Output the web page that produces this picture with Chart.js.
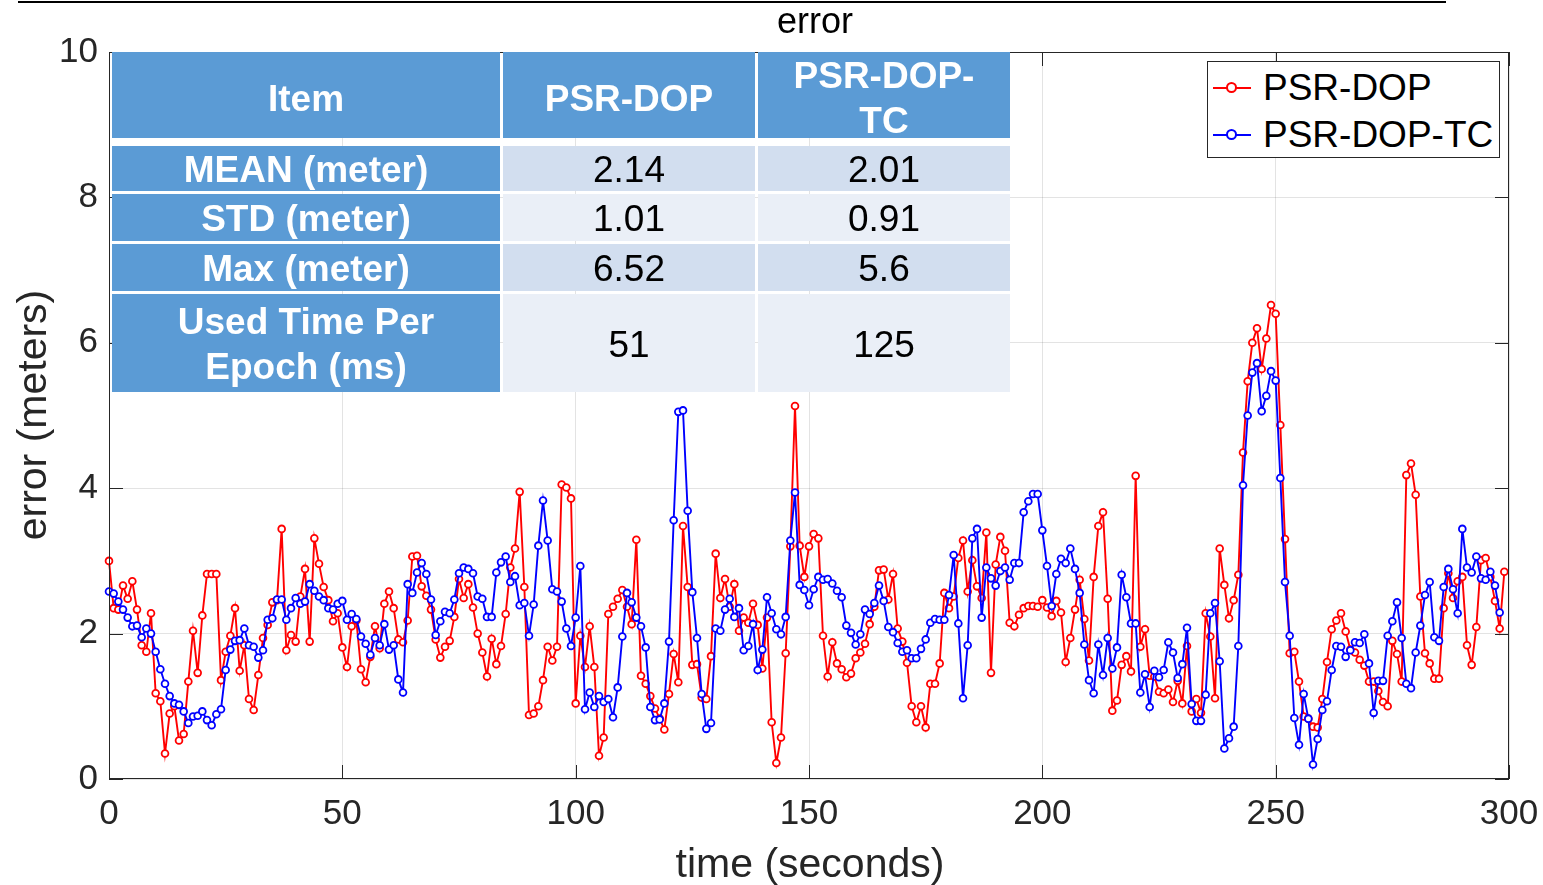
<!DOCTYPE html>
<html><head><meta charset="utf-8">
<script src="https://cdn.jsdelivr.net/npm/chart.js@4/dist/chart.umd.min.js"></script>
<style>
html,body{margin:0;padding:0;background:#fff;}
#wrap{position:relative;width:1543px;height:885px;font-family:"Liberation Sans",Arial,sans-serif;color:#262626;overflow:hidden;}
#c{position:absolute;left:0;top:0;}
#topline{position:absolute;left:18px;top:1px;width:1428px;height:2px;background:#000;}
#title{position:absolute;left:615px;width:400px;top:1px;text-align:center;font-size:36px;line-height:40px;color:#000;}
#xlabel{position:absolute;left:510px;width:600px;top:840px;text-align:center;font-size:41px;line-height:46px;}
#ylabel{position:absolute;left:32px;top:415px;width:400px;margin-left:-200px;margin-top:-23px;text-align:center;font-size:41px;line-height:46px;transform:rotate(-90deg);}
.tgrid{position:absolute;left:112px;display:grid;grid-template-columns:388px 252px 252px;column-gap:3px;row-gap:3px;}
#thead{top:52px;grid-template-rows:86px;}
#tbody{top:146px;grid-template-rows:45px 47px 47px 98px;}
.cell{display:flex;align-items:center;justify-content:center;text-align:center;font-size:37px;line-height:45px;white-space:pre-line;}
#thead .cell{padding-top:6px;box-sizing:border-box;}
#tbody .cell{padding-top:2px;box-sizing:border-box;}
.hd{background:#5b9bd5;color:#fff;font-weight:bold;}
.d1{background:#d2deef;color:#000;}
.d2{background:#eaeff7;color:#000;}
#legend{position:absolute;left:1207px;top:61px;width:291px;height:95px;border:1px solid #262626;background:#fff;}
.li{position:absolute;left:0;height:44px;line-height:44px;font-size:37px;color:#000;}
.li .ls{position:absolute;left:5px;top:21px;width:38px;height:2px;}
.li .mk{position:absolute;left:18px;top:16px;width:7px;height:7px;border-radius:50%;background:#fff;border:2px solid;}
.li .tx{position:absolute;left:55px;top:0;white-space:nowrap;}
</style></head>
<body>
<div id="wrap">
<canvas id="c" width="1543" height="885"></canvas>
<div id="topline"></div>
<div id="title">error</div>
<div id="xlabel">time (seconds)</div>
<div id="ylabel">error (meters)</div>
<div id="thead" class="tgrid"></div>
<div id="tbody" class="tgrid"></div>
<div id="legend"></div>
</div>
<script>
// ---- data ----
const timeStart = 0;   // seconds of first sample
const timeStep = 1;    // seconds between samples
const psrDop = [
3.0,2.35,2.33,2.66,2.48,2.72,2.33,1.84,1.75,2.28,
1.18,1.07,0.35,0.9,1.0,0.53,0.62,1.34,2.04,1.46,
2.25,2.82,2.82,2.82,1.36,1.75,1.97,2.35,1.49,1.84,
1.1,0.95,1.43,1.94,2.12,2.43,2.46,3.44,1.77,1.98,
1.89,2.51,2.89,1.89,3.31,2.96,2.64,2.46,2.17,2.28,
1.81,1.54,2.1,2.18,1.51,1.33,1.68,2.1,1.8,2.41,
2.58,2.35,1.92,1.88,2.18,3.06,3.07,2.65,2.52,2.33,
1.92,1.67,1.82,1.9,2.23,2.75,2.49,2.68,2.36,2.0,
1.74,1.41,1.93,1.58,1.83,2.27,2.91,3.17,3.95,2.64,
0.88,0.9,1.0,1.36,1.82,1.63,1.82,4.05,4.01,3.86,
1.04,1.97,1.54,2.1,1.54,0.32,0.57,2.27,2.37,2.48,
2.6,2.37,2.13,3.29,1.42,1.31,1.14,0.97,0.83,0.68,
1.17,1.72,1.33,3.48,2.64,1.57,1.58,1.12,1.1,1.69,
3.1,2.49,2.75,2.37,2.68,2.04,2.22,2.15,2.41,2.12,
1.52,2.22,0.78,0.22,0.57,1.73,3.2,5.13,3.21,2.78,
3.2,3.37,3.31,1.97,1.41,1.88,1.59,1.51,1.4,1.45,
1.66,1.74,1.86,2.13,2.37,2.87,2.88,2.47,2.82,2.07,
1.89,1.6,1.0,0.78,1.0,0.71,1.31,1.31,1.59,2.56,
2.35,2.51,3.04,3.28,2.58,3.01,2.65,2.49,3.39,1.46,
2.95,3.33,3.14,2.15,2.1,2.26,2.35,2.38,2.38,2.37,
2.46,2.36,2.24,2.45,2.29,1.61,1.94,2.33,2.74,2.2,
1.63,2.78,3.48,3.67,2.48,0.94,1.08,1.57,1.69,1.48,
4.17,1.82,2.06,1.42,1.41,1.2,1.18,1.23,1.06,1.35,
1.04,1.83,0.93,1.1,0.91,2.28,1.96,1.11,3.17,2.67,
2.21,2.46,2.81,4.49,5.47,6.0,6.2,5.64,6.06,6.52,
6.4,4.87,3.3,1.73,1.75,1.34,0.86,0.83,0.72,0.71,
1.1,1.61,2.06,2.18,2.28,2.03,1.78,1.74,1.64,1.56,
1.34,1.34,1.21,1.06,1.0,1.9,1.72,1.34,4.18,4.34,
3.91,2.51,1.73,1.59,1.38,1.38,2.35,2.83,2.49,2.72,
2.78,1.84,1.57,2.09,3.01,3.04,2.78,2.45,2.07,2.85
];
const psrDopTc = [
2.58,2.55,2.44,2.33,2.22,2.1,2.11,1.95,2.07,2.0,
1.75,1.51,1.31,1.14,1.04,1.02,0.93,0.77,0.86,0.87,
0.93,0.81,0.74,0.89,0.96,1.5,1.78,1.9,1.91,2.07,
1.84,1.82,1.67,1.77,2.19,2.21,2.47,2.47,2.19,2.35,
2.49,2.41,2.44,2.68,2.59,2.51,2.46,2.35,2.33,2.41,
2.45,2.19,2.27,2.2,1.96,1.86,1.71,1.94,1.84,2.13,
1.78,1.84,1.37,1.19,2.68,2.56,2.84,2.97,2.82,2.47,
1.98,2.17,2.3,2.28,2.47,2.83,2.91,2.89,2.83,2.51,
2.48,2.23,2.23,2.84,2.98,3.06,2.71,2.79,2.39,2.42,
1.97,2.4,3.21,3.83,3.28,2.61,2.58,2.44,2.07,1.83,
2.22,2.93,0.96,1.19,0.99,1.14,1.06,1.1,0.85,1.26,
1.96,2.56,2.43,2.22,2.1,1.81,0.99,0.81,0.82,1.04,
1.89,3.56,5.05,5.07,3.69,2.57,1.94,1.17,0.69,0.77,
2.07,2.04,2.33,2.48,2.23,2.35,1.77,1.83,2.13,1.5,
1.78,2.5,2.28,2.06,1.99,2.23,3.28,3.94,2.67,2.6,
2.39,2.61,2.78,2.74,2.75,2.69,2.59,2.5,2.11,2.01,
1.85,1.99,2.33,2.27,2.42,2.66,2.45,2.09,2.02,1.87,
1.75,1.77,1.66,1.66,1.79,1.92,2.15,2.2,2.19,2.19,
2.53,3.08,2.14,1.11,1.84,3.31,3.44,2.22,2.91,2.76,
2.66,2.86,2.91,2.74,2.97,2.97,3.67,3.82,3.92,3.92,
3.42,2.93,2.38,2.82,3.03,2.97,3.17,2.89,2.56,1.85,
1.36,1.18,1.85,1.43,1.94,1.52,1.81,2.81,2.5,2.14,
2.14,1.19,1.44,0.99,1.49,1.4,1.5,1.88,1.74,1.39,
1.58,2.08,1.03,0.8,0.8,1.16,2.28,2.42,1.62,0.42,
0.56,0.72,1.83,4.04,5.0,5.59,5.72,5.06,5.27,5.61,
5.48,4.14,2.71,1.97,0.84,0.47,1.17,0.83,0.2,0.55,
0.95,1.07,1.5,1.83,1.82,1.68,1.77,1.88,1.87,1.99,
1.59,0.91,1.35,1.35,1.97,2.17,2.43,1.94,1.31,1.25,
1.74,2.11,2.53,2.71,1.95,1.9,2.64,2.89,2.61,2.28,
3.44,2.91,2.84,3.06,2.76,2.74,2.85,2.66,2.29
];
const xTicks = [0,50,100,150,200,250,300];
const yTicks = [0,2,4,6,8,10];
const seriesNames = ['PSR-DOP','PSR-DOP-TC'];
const seriesColors = ['#ff0000','#0000ff'];
const tableHeader = ['Item','PSR-DOP','PSR-DOP-\nTC'];
const tableItems = ['MEAN (meter)','STD (meter)','Max (meter)','Used Time Per\nEpoch (ms)'];
const statPsrDop = ['2.14','1.01','6.52','51'];
const statPsrDopTc = ['2.01','0.91','5.6','125'];

// ---- table ----
const thead = document.getElementById('thead');
tableHeader.forEach(h=>{const d=document.createElement('div');d.className='cell hd';d.textContent=h;thead.appendChild(d);});
const tbody = document.getElementById('tbody');
tableItems.forEach((it,i)=>{
  const cls = i%2===0?'d1':'d2';
  [[it,'hd'],[statPsrDop[i],cls],[statPsrDopTc[i],cls]].forEach(([t,c])=>{
    const d=document.createElement('div');d.className='cell '+c;d.textContent=t;tbody.appendChild(d);
  });
});
// ---- legend ----
const lg = document.getElementById('legend');
seriesNames.forEach((n,i)=>{
  const li=document.createElement('div');li.className='li';li.style.top=(4+i*47)+'px';
  li.innerHTML='<span class="ls" style="background:'+seriesColors[i]+'"></span><span class="mk" style="border-color:'+seriesColors[i]+'"></span><span class="tx"></span>';
  li.querySelector('.tx').textContent=n;
  lg.appendChild(li);
});

// ---- chart ----
const toPts = arr => arr.map((v,i)=>({x: timeStart + i*timeStep, y: v}));
const frameTicks = {
  id:'frameTicks',
  afterDraw(chart){
    const {ctx, chartArea:a, scales:{x,y}} = chart;
    ctx.save();
    ctx.strokeStyle='#262626'; ctx.lineWidth=1;
    ctx.strokeRect(a.left+0.5,a.top+0.5,a.right-a.left-1,a.bottom-a.top-1);
    const L=14;
    ctx.beginPath();
    xTicks.forEach(v=>{const px=Math.round(x.getPixelForValue(v))+0.5;
      ctx.moveTo(px,a.bottom);ctx.lineTo(px,a.bottom-L);
      ctx.moveTo(px,a.top);ctx.lineTo(px,a.top+L);});
    yTicks.forEach(v=>{const py=Math.round(y.getPixelForValue(v))+0.5;
      ctx.moveTo(a.left,py);ctx.lineTo(a.left+L,py);
      ctx.moveTo(a.right,py);ctx.lineTo(a.right-L,py);});
    ctx.stroke();
    ctx.restore();
  }
};
const mkDs = (i, data) => ({
  label: seriesNames[i], data: toPts(data),
  borderColor: seriesColors[i], backgroundColor: '#ffffff',
  borderWidth: 1.9, pointRadius: 3.4, pointBorderWidth: 1.8,
  pointBackgroundColor: '#ffffff', pointBorderColor: seriesColors[i],
  tension: 0, clip: false, spanGaps: false
});
new Chart(document.getElementById('c'), {
  type:'line',
  data:{ datasets:[ mkDs(1, psrDopTc), mkDs(0, psrDop) ] },
  options:{
    responsive:false, animation:false, devicePixelRatio:1,
    layout:{padding:{left:0,top:52,right:34,bottom:0}},
    plugins:{legend:{display:false},tooltip:{enabled:false},title:{display:false}},
    scales:{
      x:{type:'linear',min:0,max:300,
        afterFit(s){s.height=106;s.paddingLeft=0;s.paddingRight=0;},
        afterBuildTicks(s){s.ticks=xTicks.map(v=>({value:v}));},
        ticks:{font:{family:'"Liberation Sans", Arial, sans-serif',size:35},color:'#262626',padding:14,maxRotation:0},
        grid:{color:'rgba(38,38,38,0.13)',drawTicks:false,lineWidth:1},
        border:{display:false}},
      y:{type:'linear',min:0,max:10,
        afterFit(s){s.width=109;s.paddingTop=0;s.paddingBottom=0;},
        afterBuildTicks(s){s.ticks=yTicks.map(v=>({value:v}));},
        ticks:{font:{family:'"Liberation Sans", Arial, sans-serif',size:35},color:'#262626',padding:11},
        grid:{color:'rgba(38,38,38,0.13)',drawTicks:false,lineWidth:1},
        border:{display:false}}
    }
  },
  plugins:[frameTicks]
});
</script>
</body></html>
